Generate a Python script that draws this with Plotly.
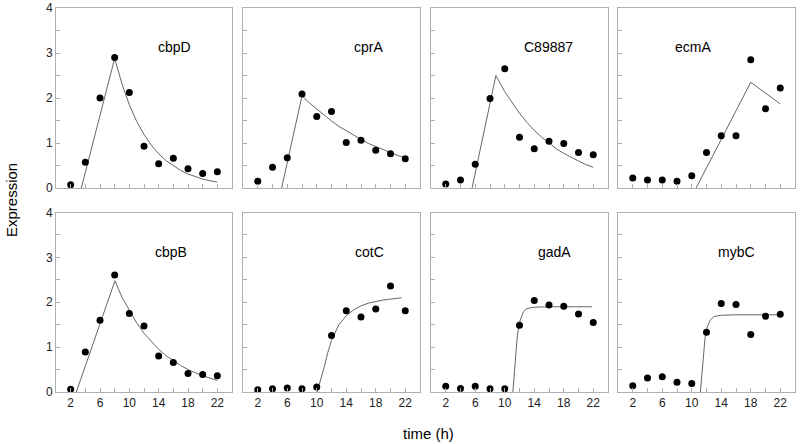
import plotly.graph_objects as go

# ---------------- data ----------------
time_h = [2, 4, 6, 8, 10, 12, 14, 16, 18, 20, 22]
genes = ["cbpD", "cprA", "C89887", "ecmA", "cbpB", "cotC", "gadA", "mybC"]

expr_cbpD = [0.07, 0.57, 2.00, 2.90, 2.12, 0.93, 0.54, 0.66, 0.43, 0.32, 0.36]
expr_cprA = [0.15, 0.46, 0.67, 2.09, 1.59, 1.70, 1.01, 1.06, 0.84, 0.76, 0.65]
expr_C89887 = [0.09, 0.18, 0.53, 1.99, 2.65, 1.13, 0.87, 1.04, 0.99, 0.79, 0.74]
expr_ecmA = [0.22, 0.18, 0.18, 0.15, 0.27, 0.79, 1.16, 1.16, 2.85, 1.76, 2.22]
expr_cbpB = [0.06, 0.89, 1.60, 2.61, 1.75, 1.47, 0.80, 0.66, 0.41, 0.39, 0.36]
expr_cotC = [0.05, 0.07, 0.09, 0.07, 0.11, 1.26, 1.81, 1.67, 1.85, 2.36, 1.81]
expr_gadA = [0.13, 0.08, 0.13, 0.07, 0.07, 1.49, 2.04, 1.94, 1.91, 1.74, 1.55]
expr_mybC = [0.14, 0.31, 0.34, 0.22, 0.19, 1.33, 1.97, 1.95, 1.28, 1.69, 1.73]

# fitted curves
fit_x_cbpD = [3.45, 8, 9, 10, 11, 12, 13, 14, 15, 16, 17, 18, 19, 20, 21, 22]
fit_y_cbpD = [0, 2.88, 2.31, 1.85, 1.48, 1.19, 0.95, 0.76, 0.61, 0.49, 0.39, 0.31, 0.25, 0.20, 0.16, 0.13]
fit_x_cprA = [5.24, 8, 9, 10, 11, 12, 13, 14, 15, 16, 17, 18, 19, 20, 21, 22]
fit_y_cprA = [0, 2.05, 1.89, 1.75, 1.61, 1.49, 1.37, 1.27, 1.17, 1.08, 0.99, 0.92, 0.85, 0.78, 0.72, 0.67]
fit_x_C89887 = [5.57, 8.8, 10, 11, 12, 13, 14, 15, 16, 17, 18, 19, 20, 21, 22]
fit_y_C89887 = [0, 2.50, 2.14, 1.89, 1.66, 1.46, 1.28, 1.13, 0.99, 0.87, 0.77, 0.68, 0.60, 0.52, 0.46]
fit_x_ecmA = [10.59, 18, 22]
fit_y_ecmA = [0, 2.35, 1.87]
fit_x_cbpB = [2.77, 8.04, 9, 10, 11, 12, 13, 14, 15, 16, 17, 18, 19, 20, 21, 22]
fit_y_cbpB = [0, 2.48, 2.11, 1.81, 1.54, 1.31, 1.12, 0.95, 0.81, 0.69, 0.59, 0.50, 0.43, 0.36, 0.31, 0.26]
fit_x_cotC = [10.05, 10.5, 11, 11.5, 12, 13, 14, 15, 16, 17, 18, 19, 20, 21, 21.5]
fit_y_cotC = [0, 0.25, 0.55, 0.88, 1.15, 1.50, 1.70, 1.83, 1.92, 1.98, 2.02, 2.05, 2.07, 2.09, 2.10]
fit_x_gadA = [11.1, 11.3, 11.5, 11.7, 12, 12.5, 13, 14, 16, 18, 20, 21.8]
fit_y_gadA = [0, 0.45, 0.90, 1.25, 1.55, 1.78, 1.86, 1.89, 1.90, 1.90, 1.90, 1.90]
fit_x_mybC = [11.17, 11.4, 11.6, 11.8, 12.1, 12.5, 13, 14, 16, 18, 20, 21.9]
fit_y_mybC = [0, 0.50, 0.90, 1.20, 1.45, 1.60, 1.68, 1.71, 1.72, 1.72, 1.72, 1.72]

label_x = [16.1, 17.0, 15.9, 10.2, 15.7, 17.2, 16.8, 16.1]
label_y = [3.14, 3.14, 3.14, 3.14, 3.13, 3.13, 3.13, 3.13]

x_tick_vals = [2, 6, 10, 14, 18, 22]
y_tick_vals = [0, 1, 2, 3, 4]

expr = [expr_cbpD, expr_cprA, expr_C89887, expr_ecmA, expr_cbpB, expr_cotC, expr_gadA, expr_mybC]
fit_x = [fit_x_cbpD, fit_x_cprA, fit_x_C89887, fit_x_ecmA, fit_x_cbpB, fit_x_cotC, fit_x_gadA, fit_x_mybC]
fit_y = [fit_y_cbpD, fit_y_cprA, fit_y_C89887, fit_y_ecmA, fit_y_cbpB, fit_y_cotC, fit_y_gadA, fit_y_mybC]

# ---------------- layout ----------------
W, H = 800, 444
col_px = [(56, 232), (243, 420), (431, 608), (618, 795)]
row_px = [(8, 188), (212.5, 392)]

FONT = "Liberation Sans, Arial, Helvetica, sans-serif"
FRAME = "#b0b0b0"

fig = go.Figure()
layout = dict(
    width=W, height=H,
    margin=dict(l=0, r=0, t=0, b=0, pad=0),
    paper_bgcolor="white", plot_bgcolor="white",
    showlegend=False,
    font=dict(family=FONT, size=12, color="#222"),
    annotations=[],
)

for i, g in enumerate(genes):
    r, c = divmod(i, 4)
    n = i + 1
    xa = "x" if n == 1 else f"x{n}"
    ya = "y" if n == 1 else f"y{n}"
    fig.add_trace(go.Scatter(x=fit_x[i], y=fit_y[i], mode="lines",
                             line=dict(color="#666666", width=1),
                             xaxis=xa, yaxis=ya, hoverinfo="skip"))
    fig.add_trace(go.Scatter(x=time_h, y=expr[i], mode="markers",
                             marker=dict(color="black", size=7),
                             xaxis=xa, yaxis=ya))
    x0, x1 = col_px[c]
    y0, y1 = row_px[r]
    xdom = [x0 / W, x1 / W]
    ydom = [1 - y1 / H, 1 - y0 / H]
    layout["xaxis" if n == 1 else f"xaxis{n}"] = dict(
        domain=xdom, range=[0, 24], anchor=ya, automargin=False,
        showline=True, mirror=True, linecolor=FRAME, linewidth=1,
        showgrid=False, zeroline=False,
        tickmode="array", tickvals=x_tick_vals,
        ticks="inside", ticklen=4, tickcolor=FRAME,
        minor=dict(ticks="inside", dtick=2, tick0=0, ticklen=4, tickcolor=FRAME, showgrid=False),
        showticklabels=(r == 1),
        tickfont=dict(family=FONT, size=12, color="#222"),
    )
    layout["yaxis" if n == 1 else f"yaxis{n}"] = dict(
        domain=ydom, range=[0, 4], anchor=xa, automargin=False,
        showline=True, mirror=True, linecolor=FRAME, linewidth=1,
        showgrid=False, zeroline=False,
        tickmode="array", tickvals=y_tick_vals,
        ticks="inside", ticklen=4, tickcolor=FRAME,
        minor=dict(ticks="inside", dtick=0.5, tick0=0, ticklen=4, tickcolor=FRAME, showgrid=False),
        showticklabels=(c == 0),
        tickfont=dict(family=FONT, size=12, color="#222"),
    )
    layout["annotations"].append(dict(
        x=label_x[i], y=label_y[i], xref=xa, yref=ya, text=g,
        xanchor="center", yanchor="middle",
        showarrow=False, font=dict(family=FONT, size=14, color="black"),
    ))

layout["annotations"].append(dict(
    x=11 / W, y=1 - 200 / H, xref="paper", yref="paper", text="Expression",
    xanchor="center", yanchor="middle",
    textangle=-90, showarrow=False, font=dict(family=FONT, size=15, color="black"),
))
layout["annotations"].append(dict(
    x=428 / W, y=1 - 433 / H, xref="paper", yref="paper", text="time (h)",
    xanchor="center", yanchor="middle",
    showarrow=False, font=dict(family=FONT, size=15, color="black"),
))

fig.update_layout(**layout)
fig.write_html("out.html", config={"displayModeBar": False},
               post_script="document.body.style.margin='0px';")
